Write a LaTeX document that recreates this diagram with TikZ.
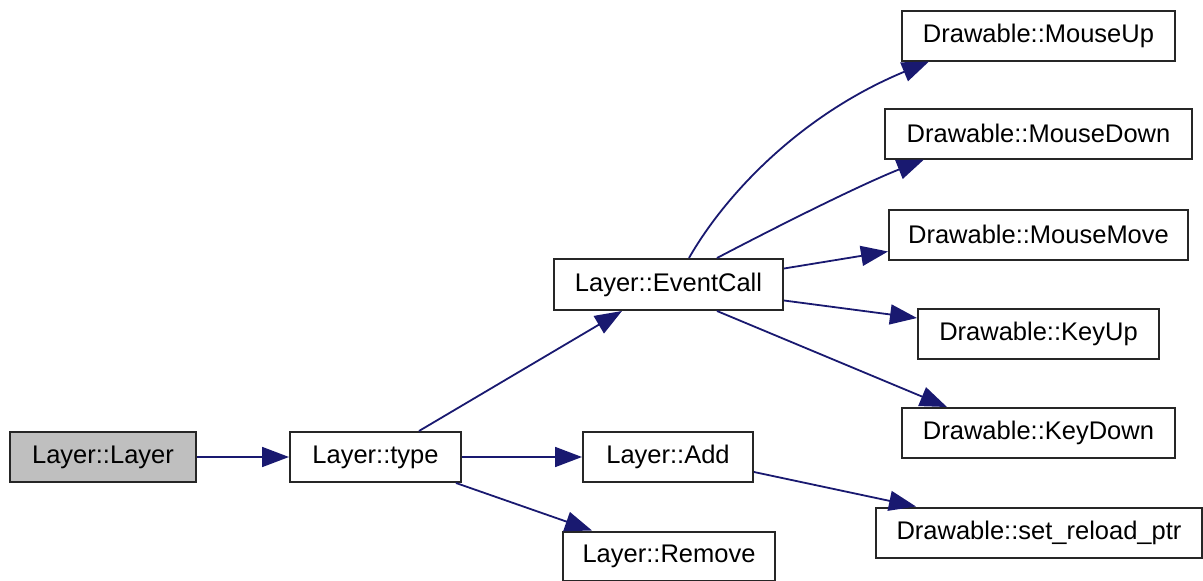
\documentclass[tikz,border=0pt]{standalone}
\usepackage{fontspec}
\setmainfont{Liberation Sans}
\usetikzlibrary{arrows.meta,calc}
\definecolor{edgeblue}{HTML}{191970}
\definecolor{rootgray}{HTML}{BFBFBF}
\begin{document}
\begin{tikzpicture}[x=1pt,y=-1pt,
  fn/.style={draw=black!85, line width=2pt, fill=white, rectangle, inner sep=0pt,
    minimum height=50pt, font=\fontsize{25.5}{30}\selectfont},
  root/.style={fn, fill=rootgray},
  call/.style={draw=edgeblue, line width=1.8pt,
    -{Triangle[length=27pt,width=20pt]}}]
\useasboundingbox (0,0) rectangle (1203,581);

% functions
\node[root, minimum width=186pt] (layer) at (103,457) {Layer::Layer};
\node[fn, minimum width=171pt] (type) at (375.5,457) {Layer::type};
\node[fn, minimum width=229pt, minimum height=51pt] (evc) at (668.5,284.5) {Layer::EventCall};
\node[fn, minimum width=170pt] (add) at (668,457) {Layer::Add};
\node[fn, minimum width=212pt, minimum height=49pt] (remove) at (669,556) {Layer::Remove};
\node[fn, minimum width=273pt] (mup) at (1038.5,35.5) {Drawable::MouseUp};
\node[fn, minimum width=307pt] (mdown) at (1038.5,133.5) {Drawable::MouseDown};
\node[fn, minimum width=299pt] (mmove) at (1038.5,234.5) {Drawable::MouseMove};
\node[fn, minimum width=241pt] (kup) at (1038.5,333.5) {Drawable::KeyUp};
\node[fn, minimum width=273pt] (kdown) at (1038.5,433) {Drawable::KeyDown};
\node[fn, minimum width=326pt] (srp) at (1039,532.5) {Drawable::set\_reload\_ptr};

% calls
\draw[call] (layer.east) -- (type.west);
\draw[call] ($(type.north west)+(130,0)$) -- ($(evc.south west)+(69,0)$);
\draw[call] (type.east) -- (add.west);
\draw[call] ($(type.south east)+(-6,0)$) -- ($(remove.north west)+(30,0)$);
\draw[call] ($(add.east)+(0,15)$) -- ($(srp.north west)+(41,0)$);
\draw[call] ($(evc.north west)+(136,0)$) .. controls (725,195) and (800,115) .. ($(mup.south west)+(28,0)$);
\draw[call] ($(evc.north west)+(164,0)$) .. controls (780,225) and (860,185) .. ($(mdown.south west)+(40,0)$);
\draw[call] ($(evc.east)+(0,-16)$) -- ($(mmove.west)+(0,17)$);
\draw[call] ($(evc.east)+(0,16)$) -- ($(kup.west)+(0,-15.5)$);
\draw[call] ($(evc.south west)+(164,0)$) -- ($(kdown.north west)+(46,0)$);
\end{tikzpicture}
\end{document}
